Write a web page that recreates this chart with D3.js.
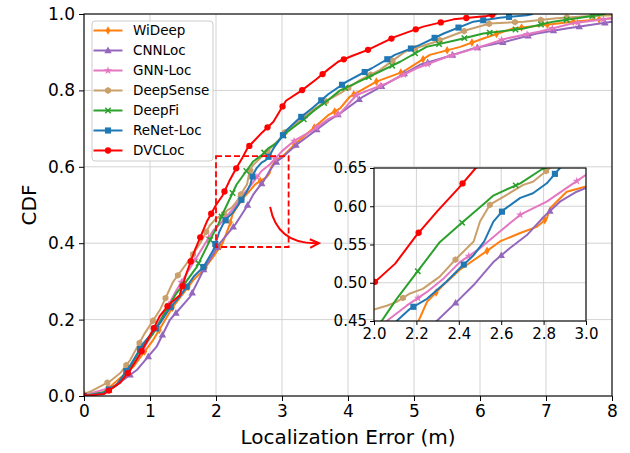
<!DOCTYPE html>
<html>
<head>
<meta charset="utf-8">
<script src="https://cdn.jsdelivr.net/npm/d3@7"></script>
<style>
    body { margin: 0; background: #fff; }
    #chart-area { width: 630px; height: 453px; }
    text { font-family: "DejaVu Sans", sans-serif; fill: #000; }
    .grid line { stroke: #d3d3d3; stroke-width: 1; }
    .axis path, .axis line { stroke: #000; }
</style>
</head>
<body>
<div id="chart-area"></div>
<script>
// each series: [localization error (m), CDF]
const wiDeep = [[0,0.003],[0.3,0.01],[0.5,0.04],[0.75,0.077],[1.05,0.147],[1.35,0.234],[1.66,0.304],[1.81,0.33],[1.96,0.365],[2.1,0.4],[2.21,0.45],[2.25,0.475],[2.327,0.497],[2.405,0.517],[2.53,0.541],[2.594,0.554],[2.69,0.565],[2.767,0.573],[2.815,0.584],[2.83,0.597],[2.909,0.619],[3.0,0.626],[3.2,0.66],[3.47,0.7],[3.7,0.735],[3.88,0.753],[4.03,0.784],[4.43,0.823],[4.84,0.849],[5.24,0.893],[5.7,0.914],[6.05,0.936],[6.5,0.962],[6.91,0.97],[7.41,0.98],[8,0.989]];
const cnnLoc = [[0,0],[0.3,0.008],[0.5,0.03],[0.8,0.068],[1.1,0.129],[1.3,0.199],[1.61,0.26],[1.81,0.33],[2.06,0.4],[2.296,0.45],[2.39,0.475],[2.47,0.497],[2.563,0.527],[2.64,0.545],[2.72,0.562],[2.8,0.586],[2.877,0.606],[2.956,0.619],[3.0,0.624],[3.2,0.655],[3.47,0.69],[3.7,0.72],[3.88,0.74],[4.23,0.784],[4.64,0.823],[5.09,0.867],[5.5,0.888],[5.9,0.91],[6.4,0.928],[6.86,0.949],[7.31,0.962],[7.82,0.975],[8,0.98]];
const gnnLoc = [[0,0.002],[0.45,0.024],[0.6,0.05],[0.8,0.094],[1.1,0.181],[1.4,0.277],[1.71,0.364],[1.96,0.434],[2.06,0.45],[2.154,0.47],[2.25,0.488],[2.33,0.506],[2.405,0.527],[2.5,0.545],[2.594,0.567],[2.69,0.589],[2.815,0.606],[2.909,0.624],[3.0,0.641],[3.2,0.67],[3.47,0.696],[3.7,0.725],[3.88,0.74],[4.13,0.788],[4.59,0.819],[5.04,0.858],[5.5,0.888],[6.0,0.914],[6.4,0.936],[6.91,0.954],[7.41,0.976],[8,0.989]];
const deepSense = [[0,0.005],[0.09,0.011],[0.39,0.038],[0.55,0.06],[0.7,0.094],[0.92,0.164],[1.15,0.225],[1.35,0.299],[1.61,0.36],[1.76,0.4],[1.9,0.445],[2.0,0.465],[2.06,0.47],[2.107,0.475],[2.17,0.486],[2.23,0.492],[2.31,0.508],[2.39,0.532],[2.47,0.554],[2.5,0.58],[2.547,0.602],[2.626,0.615],[2.704,0.628],[2.75,0.632],[2.83,0.65],[2.95,0.67],[3.07,0.696],[3.3,0.725],[3.47,0.749],[3.7,0.775],[3.88,0.792],[4.18,0.827],[4.48,0.853],[4.86,0.901],[5.34,0.928],[5.8,0.958],[6.15,0.975],[6.66,0.98],[7.16,0.989],[7.67,0.995],[8,0.997]];
const deepFi = [[0,0],[0.3,0.01],[0.5,0.03],[0.7,0.077],[0.85,0.12],[1.05,0.164],[1.2,0.21],[1.4,0.269],[1.55,0.3],[1.71,0.338],[1.91,0.408],[2.036,0.45],[2.107,0.479],[2.217,0.519],[2.31,0.553],[2.405,0.576],[2.53,0.606],[2.563,0.614],[2.69,0.63],[2.79,0.648],[2.9,0.66],[3.07,0.69],[3.3,0.72],[3.47,0.745],[3.7,0.775],[3.88,0.8],[4.28,0.832],[4.79,0.875],[5.19,0.914],[5.65,0.932],[6.05,0.949],[6.66,0.962],[7.11,0.98],[7.62,0.993],[7.9,1.0]];
const reNetLoc = [[0,0],[0.3,0.008],[0.5,0.03],[0.7,0.08],[0.9,0.138],[1.15,0.19],[1.3,0.23],[1.45,0.26],[1.66,0.312],[1.81,0.338],[1.96,0.382],[2.05,0.43],[2.107,0.45],[2.17,0.466],[2.25,0.479],[2.34,0.501],[2.405,0.519],[2.47,0.536],[2.52,0.554],[2.563,0.58],[2.61,0.595],[2.69,0.611],[2.75,0.617],[2.815,0.63],[2.877,0.65],[3.07,0.696],[3.25,0.725],[3.47,0.755],[3.7,0.79],[3.98,0.823],[4.36,0.858],[4.71,0.893],[5.09,0.919],[5.45,0.949],[5.9,0.98],[6.3,0.99],[6.71,0.997],[6.8,1.0]];
const dvcLoc = [[0,0],[0.3,0.005],[0.55,0.035],[0.7,0.068],[0.85,0.11],[1.03,0.168],[1.15,0.21],[1.28,0.238],[1.45,0.264],[1.55,0.32],[1.68,0.382],[1.86,0.456],[2.0,0.5],[2.1,0.525],[2.2,0.562],[2.3,0.594],[2.4,0.624],[2.48,0.65],[2.55,0.663],[2.7,0.69],[2.87,0.718],[3.06,0.773],[3.3,0.8],[3.52,0.829],[3.7,0.855],[3.85,0.875],[4.03,0.888],[4.3,0.906],[4.71,0.94],[5.14,0.967],[5.6,0.986],[6.1,0.995],[6.25,1.0]];

const xTicks = [0, 1, 2, 3, 4, 5, 6, 7, 8];
const yTicks = [0, 0.2, 0.4, 0.6, 0.8, 1.0];
const insetXTicks = [2.0, 2.2, 2.4, 2.6, 2.8, 3.0];
const insetYTicks = [0.45, 0.50, 0.55, 0.60, 0.65];
const zoomBox = { x0: 2.0, x1: 3.1, y0: 0.39, y1: 0.628 };

const series = [
    { name: "WiDeep", color: "#ff7f0e", marker: "thinDiamond", data: wiDeep },
    { name: "CNNLoc", color: "#9467bd", marker: "triangle", data: cnnLoc },
    { name: "GNN-Loc", color: "#e377c2", marker: "star", data: gnnLoc },
    { name: "DeepSense", color: "#c9a06b", marker: "hexagon", data: deepSense },
    { name: "DeepFi", color: "#2ca02c", marker: "x", data: deepFi },
    { name: "ReNet-Loc", color: "#1f77b4", marker: "square", data: reNetLoc },
    { name: "DVCLoc", color: "#ff0000", marker: "circle", data: dvcLoc }
];

const margin = { left: 84, right: 18, top: 14, bottom: 57 };
const W = 630, H = 453;
const width = W - margin.left - margin.right,
    height = H - margin.top - margin.bottom;

const svg = d3.select("#chart-area")
    .append("svg")
    .attr("width", W)
    .attr("height", H);

function addMarker(g, type, color, s) {
    s = s || 1;
    if (type === "circle") {
        g.append("circle").attr("r", 3.5 * s).attr("fill", color);
    } else if (type === "square") {
        g.append("rect").attr("x", -3.4 * s).attr("y", -3.4 * s)
            .attr("width", 6.8 * s).attr("height", 6.8 * s).attr("fill", color);
    } else if (type === "triangle") {
        g.append("path").attr("d", `M0,${-4.4 * s}L${4.1 * s},${3 * s}L${-4.1 * s},${3 * s}Z`).attr("fill", color);
    } else if (type === "thinDiamond") {
        g.append("path").attr("d", `M0,${-4.8 * s}L${2.8 * s},0L0,${4.8 * s}L${-2.8 * s},0Z`).attr("fill", color);
    } else if (type === "star") {
        g.append("path").attr("d", d3.symbol(d3.symbolStar, 26 * s * s)()).attr("fill", color);
    } else if (type === "hexagon") {
        const pts = d3.range(6).map(k => {
            const a = Math.PI / 2 + k * Math.PI / 3;
            return [Math.cos(a) * 3.8 * s, Math.sin(a) * 3.8 * s];
        });
        g.append("path").attr("d", "M" + pts.join("L") + "Z").attr("fill", color);
    } else if (type === "x") {
        const r = 3 * s;
        g.append("path").attr("d", `M${-r},${-r}L${r},${r}M${-r},${r}L${r},${-r}`)
            .attr("stroke", color).attr("stroke-width", 1.5).attr("fill", "none");
    }
}

// markers spaced evenly along the drawn path
function markersAlong(g, pathNode, spacing, offset, s, color, type) {
    const L = pathNode.getTotalLength();
    for (let d = offset; d <= L; d += spacing) {
        const p = pathNode.getPointAtLength(d);
        const m = g.append("g").attr("transform", `translate(${p.x},${p.y})`);
        addMarker(m, type, color, s);
    }
}

function drawPanel(root, xs, ys, w, h, opts) {
    root.append("rect").attr("width", w).attr("height", h).attr("fill", "#fff");

    // grid
    const grid = root.append("g").attr("class", "grid");
    grid.selectAll(".gx").data(opts.xTicks).enter().append("line")
        .attr("x1", d => xs(d)).attr("x2", d => xs(d)).attr("y1", 0).attr("y2", h);
    grid.selectAll(".gy").data(opts.yTicks).enter().append("line")
        .attr("y1", d => ys(d)).attr("y2", d => ys(d)).attr("x1", 0).attr("x2", w);

    const clipId = "clip-" + opts.id;
    root.append("clipPath").attr("id", clipId)
        .append("rect").attr("width", w).attr("height", h);

    const plot = root.append("g").attr("clip-path", `url(#${clipId})`);
    const line = d3.line().x(d => xs(d[0])).y(d => ys(d[1]));

    series.forEach((s, i) => {
        const p = plot.append("path")
            .datum(s.data)
            .attr("fill", "none")
            .attr("stroke", s.color)
            .attr("stroke-width", 2)
            .attr("stroke-linejoin", "round")
            .attr("d", line);
        const mg = plot.append("g");
        markersAlong(mg, p.node(), opts.spacing, opts.offsets[i], opts.markerScale, s.color, s.marker);
    });

    const xAxisCall = d3.axisBottom(xs).tickValues(opts.xTicks).tickSize(opts.tickLen)
        .tickPadding(opts.pad).tickFormat(opts.xFmt);
    const yAxisCall = d3.axisLeft(ys).tickValues(opts.yTicks).tickSize(opts.tickLen)
        .tickPadding(opts.pad).tickFormat(opts.yFmt);

    root.append("g").attr("class", "axis")
        .attr("transform", `translate(0, ${h})`)
        .call(xAxisCall)
        .call(g => g.select(".domain").remove())
        .selectAll("text").style("font-size", opts.font + "px");
    root.append("g").attr("class", "axis")
        .call(yAxisCall)
        .call(g => g.select(".domain").remove())
        .selectAll("text").style("font-size", opts.font + "px");

    root.append("rect").attr("width", w).attr("height", h)
        .attr("fill", "none").attr("stroke", "#000").attr("stroke-width", 1.1);
    return plot;
}

// main axes
const x = d3.scaleLinear().domain([0, 8]).range([0, width]);
const y = d3.scaleLinear().domain([0, 1]).range([height, 0]);

const g = svg.append("g").attr("transform", `translate(${margin.left}, ${margin.top})`);
drawPanel(g, x, y, width, height, {
    id: "main", xTicks, yTicks, tickLen: 5, pad: 4, font: 17,
    xFmt: d3.format("d"), yFmt: d3.format(".1f"),
    spacing: 26, offsets: [0, 0, 0, 0, 0, 0, 0], markerScale: 0.9
});

// zoom box + arrow
g.append("rect")
    .attr("x", x(zoomBox.x0)).attr("y", y(zoomBox.y1))
    .attr("width", x(zoomBox.x1) - x(zoomBox.x0))
    .attr("height", y(zoomBox.y0) - y(zoomBox.y1))
    .attr("fill", "none").attr("stroke", "#ff0000")
    .attr("stroke-width", 1.8).attr("stroke-dasharray", "6,3");

const arrowFrom = [2.82, 0.495], arrowCtrl = [2.93, 0.395], arrowTo = [3.56, 0.4];
const ap = d3.path();
ap.moveTo(x(arrowFrom[0]), y(arrowFrom[1]));
ap.quadraticCurveTo(x(arrowCtrl[0]), y(arrowCtrl[1]), x(arrowTo[0]), y(arrowTo[1]));
g.append("path").attr("d", ap.toString()).attr("fill", "none")
    .attr("stroke", "#ff0000").attr("stroke-width", 2);
{
    const ex = x(arrowTo[0]), ey = y(arrowTo[1]);
    const ang = Math.atan2(ey - y(arrowCtrl[1]), ex - x(arrowCtrl[0]));
    const hl = 10, ha = 0.45;
    const p1 = [ex - hl * Math.cos(ang - ha), ey - hl * Math.sin(ang - ha)];
    const p2 = [ex - hl * Math.cos(ang + ha), ey - hl * Math.sin(ang + ha)];
    g.append("path").attr("d", `M${p1}L${ex},${ey}L${p2}`)
        .attr("fill", "none").attr("stroke", "#ff0000").attr("stroke-width", 2);
}

// axis labels
svg.append("text").attr("x", margin.left + width / 2).attr("y", 444)
    .attr("text-anchor", "middle").style("font-size", "20px")
    .text("Localization Error (m)");
svg.append("text").attr("transform", `translate(36, ${margin.top + height / 2}) rotate(-90)`)
    .attr("text-anchor", "middle").style("font-size", "20px")
    .text("CDF");

// legend
const legend = svg.append("g").attr("transform", "translate(92, 21)");
legend.append("rect").attr("width", 121).attr("height", 140).attr("rx", 3)
    .attr("fill", "#fff").attr("fill-opacity", 0.8)
    .attr("stroke", "#cccccc").attr("stroke-width", 1);
series.forEach((s, i) => {
    const row = legend.append("g").attr("transform", `translate(0, ${9.5 + i * 20})`);
    row.append("line").attr("x1", 1.5).attr("x2", 30.5).attr("stroke", s.color).attr("stroke-width", 2);
    addMarker(row.append("g").attr("transform", "translate(16, 0)"), s.marker, s.color, 0.9);
    row.append("text").attr("x", 41).attr("dy", "0.35em")
        .style("font-size", "13.5px").text(s.name);
});

// inset
const iw = 212, ih = 153;
const ix = d3.scaleLinear().domain([2.0, 3.0]).range([0, iw]);
const iy = d3.scaleLinear().domain([0.45, 0.65]).range([ih, 0]);
const inset = svg.append("g").attr("transform", "translate(374, 168)");
drawPanel(inset, ix, iy, iw, ih, {
    id: "inset", xTicks: insetXTicks, yTicks: insetYTicks, tickLen: 4, pad: 3, font: 15,
    xFmt: d3.format(".1f"), yFmt: d3.format(".2f"),
    spacing: 66, offsets: [300, 310, 280, 330, 300, 340, 270], markerScale: 0.9
});
</script>
</body>
</html>
